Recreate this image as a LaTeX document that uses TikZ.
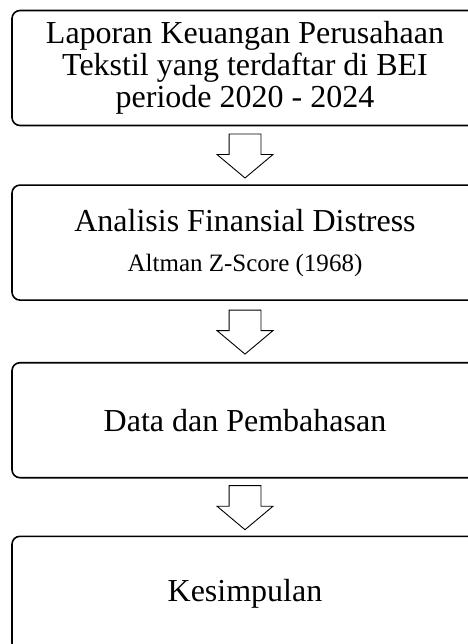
\documentclass[tikz,border=0pt]{standalone}
\usepackage{fontspec}
\setmainfont{Liberation Serif}
\usetikzlibrary{
  calc,
  positioning,
  shapes.arrows}

\begin{document}
\begin{tikzpicture}[
  line width=1.6pt,
  stepbox/.style={draw,rectangle,rounded corners=8pt,minimum width=466pt,minimum height=115pt,align=center,inner sep=0pt,font=\fontsize{32}{32}\selectfont},
  downarrow/.style={draw,single arrow,rotate=-90,line width=0.9pt,minimum height=44pt,single arrow head extend=12pt,single arrow tip angle=100,inner xsep=0pt,inner ysep=15.5pt}
]%
  \useasboundingbox (0,0) rectangle (467pt,-644pt);

  \node[stepbox] (bLap) at (245pt,-68pt) {Laporan Keuangan Perusahaan\\Tekstil yang terdaftar di BEI\\periode 2020 - 2024};
  \node[stepbox,below=58pt of bLap] (bAna) {\raisebox{-5pt}{Analisis Finansial Distress}\\[13pt]{\fontsize{25}{25}\selectfont Altman Z-Score (1968)}};
  \node[stepbox,below=61pt of bAna] (bDat) {Data dan Pembahasan};
  \node[stepbox,below=57pt of bDat] (bKes) {Kesimpulan};

  \node[downarrow] (aA) at ($(bLap.south)!0.5!(bAna.north)+(0,6pt)$) {};
  \node[downarrow] (aB) at ($(bAna.south)!0.5!(bDat.north)+(0,6pt)$) {};
  \node[downarrow] (aC) at ($(bDat.south)!0.5!(bKes.north)+(0,6pt)$) {};

\end{tikzpicture}
\end{document}
